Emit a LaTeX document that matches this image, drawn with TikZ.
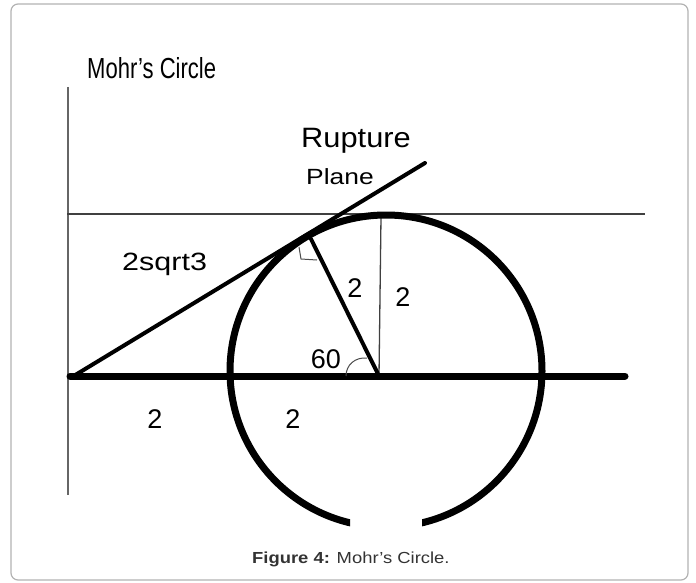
\documentclass[tikz,border=0pt]{standalone}
\usepackage{fontspec}
\setmainfont{Liberation Sans}
\begin{document}
\begin{tikzpicture}[x=1pt,y=-1pt,
  frame/.style={draw=black!30, line width=1.2pt, rounded corners=7pt},
  axisthin/.style={draw=black!60, line width=1.4pt},
  refthin/.style={draw=black!75, line width=1.3pt},
  heavy/.style={draw=black, line width=7pt},
  medium/.style={draw=black, line width=4pt, line cap=round},
  circ/.style={draw=black, line width=7pt},
  anglemark/.style={draw=black!70, line width=1pt},
  lab/.style={inner sep=0pt, anchor=base, font=\fontsize{27}{27}\selectfont},
  labw/.style={inner sep=0pt, anchor=base west}
]
\useasboundingbox (0,0) rectangle (696,583);
\draw[frame] (11,4) rectangle (688,580);

% coordinates
\coordinate (axtop) at (68,87);
\coordinate (axbot) at (68,495);
\coordinate (hl) at (67,214);
\coordinate (hr) at (645,214);
\coordinate (sl) at (70,376);
\coordinate (sr) at (625,376);
\coordinate (O) at (379,376);
\coordinate (C) at (386,371);
\coordinate (T) at (311,239);
\coordinate (Vtop) at (381,217);
\coordinate (tanA) at (72,377);
\coordinate (tanB) at (425,163);
\coordinate (m1) at (299,247);
\coordinate (m2) at (301,259);
\coordinate (m3) at (317,260);
\coordinate (a1) at (346,376);
\coordinate (a2) at (367,358);

% axes and reference lines
\draw[axisthin] (axtop) -- (axbot);
\draw[refthin] (hl) -- (hr);
\draw[refthin] (O) -- (Vtop);

% circle, open at the bottom
\begin{scope}
  \clip (0,0) -- (696,0) -- (696,527) -- (422,527) -- (422,490)
        -- (350,490) -- (350,527) -- (0,527) -- cycle;
  \draw[circ] (C) circle[radius=156pt];
\end{scope}

% sigma axis
\draw[heavy, line cap=round] (sl) -- (sr);

% tangent (rupture plane) and radius
\draw[medium] (tanA) -- (tanB);
\draw[medium] (O) -- (T);

% right angle mark and angle arc
\draw[anglemark] (m1) -- (m2) -- (m3);
\draw[anglemark] (a1) .. controls (346,365) and (355,357) .. (a2);

% labels
\node[labw, font=\fontsize{29}{29}\selectfont, xscale=0.76] (title) at (87,79) {Mohr’s Circle};
\node[labw, font=\fontsize{28}{28}\selectfont, xscale=1.1] (rup) at (301,147) {Rupture};
\node[labw, font=\fontsize{22}{22}\selectfont, xscale=1.2] (plane) at (306,184) {Plane};
\node[labw, font=\fontsize{25}{25}\selectfont, xscale=1.22] (len) at (122,270) {2sqrt3};
\node[lab] (r1) at (355,297) {2};
\node[lab] (r2) at (403,306) {2};
\node[lab] (ang) at (326,368) {60};
\node[lab] (d1) at (155,428) {2};
\node[lab] (d2) at (293,428) {2};
\node[labw, font=\fontsize{16}{16}\selectfont, xscale=1.15, text=black!80] (cap) at (252,563) {\textbf{Figure 4:} Mohr’s Circle.};
\end{tikzpicture}
\end{document}
